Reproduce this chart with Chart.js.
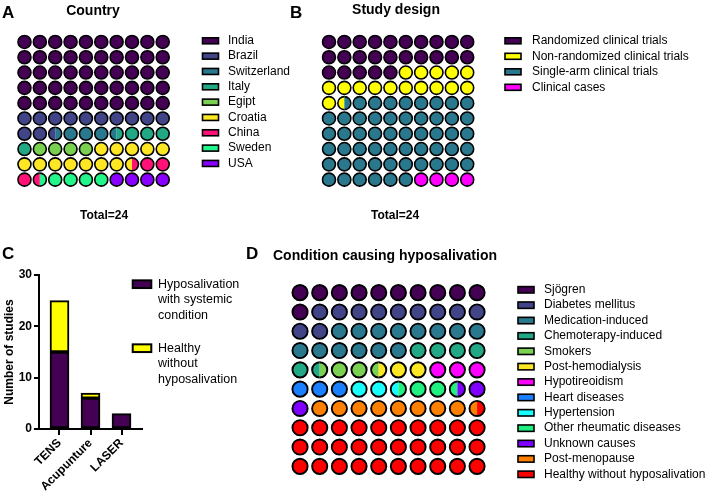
<!DOCTYPE html>
<html>
<head>
<meta charset="utf-8">
<script src="https://cdn.jsdelivr.net/npm/chart.js@4"></script>
<style>
body { margin: 0; background: #fff; }
#wrap { position: relative; width: 709px; height: 492px; }
canvas { position: absolute; left: 0; top: 0; pointer-events: none; }
</style>
</head>
<body>
<div id="wrap">
  <canvas id="chartA" width="709" height="492"></canvas>
  <canvas id="chartB" width="709" height="492"></canvas>
  <canvas id="chartC" width="709" height="492"></canvas>
  <canvas id="chartD" width="709" height="492"></canvas>
</div>
<script>
// A - country of the studies
var countryLabels = ["India", "Brazil", "Switzerland", "Italy", "Egipt", "Croatia", "China", "Sweden", "USA"];
var countryStudies = [12, 3, 1, 1, 1, 3, 1, 1, 1];
var countryColors = ["#440154", "#414487", "#2a788e", "#22a884", "#7ad151", "#fde725", "#ff1177", "#22f58a", "#8a00ff"];

// B - study design
var designLabels = ["Randomized clinical trials", "Non-randomized clinical trials", "Single-arm clinical trials", "Clinical cases"];
var designStudies = [6, 4, 13, 1];
var designColors = ["#440154", "#ffff00", "#2a788e", "#ff00ff"];

// C - studies per technique
var techniques = ["TENS", "Acupunture", "LASER"];
var systemicStudies = [15, 6, 3];
var healthyStudies = [10, 1, 0];
var groupLabels = [["Hyposalivation", "with systemic", "condition"], ["Healthy", "without", "hyposalivation"]];
var groupColors = ["#440154", "#ffff00"];

// D - condition causing hyposalivation
var conditionLabels = ["Sjögren", "Diabetes mellitus", "Medication-induced", "Chemoterapy-induced", "Smokers", "Post-hemodialysis", "Hypotireoidism", "Heart diseases", "Hypertension", "Other rheumatic diseases", "Unknown causes", "Post-menopause", "Healthy without hyposalivation"];
var conditionStudies = [4, 4, 5, 2, 1, 1, 1, 1, 1, 1, 1, 3, 11];
var conditionColors = ["#440154", "#414487", "#2a788e", "#22a884", "#7ad151", "#fde725", "#ff00ff", "#1a80ff", "#19ffff", "#20f080", "#8000ff", "#ff8000", "#ff0000"];

var FONT = "'Liberation Sans', Arial, sans-serif";
Chart.defaults.font.family = FONT;
Chart.defaults.color = "#000";

// split 100 cells between categories, in half cells
function waffleCells(counts) {
    var total = counts.reduce(function (a, b) { return a + b; }, 0);
    var bounds = [0], cum = 0;
    counts.forEach(function (c) {
        cum += c;
        bounds.push(Math.round(cum / total * 200) / 2);
    });
    return counts.map(function (c, k) {
        var pts = [];
        for (var i = Math.floor(bounds[k]); i < Math.ceil(bounds[k + 1]); i++) {
            var f0 = Math.max(bounds[k] - i, 0), f1 = Math.min(bounds[k + 1] - i, 1);
            if (f1 > f0) pts.push({x: i % 10, y: Math.floor(i / 10), f0: f0, f1: f1});
        }
        return pts;
    });
}

// draws the half filled cells
var splitCellPlugin = {
    id: "splitCells",
    afterDatasetsDraw: function (chart) {
        var ctx = chart.ctx;
        chart.data.datasets.forEach(function (ds, i) {
            var meta = chart.getDatasetMeta(i);
            meta.data.forEach(function (pt, j) {
                var raw = ds.data[j];
                if (raw.f1 - raw.f0 >= 1) return;
                var r = ds.cellRadius, R = r + ds.borderWidth;
                ctx.save();
                ctx.beginPath();
                ctx.rect(pt.x - R + 2 * R * raw.f0, pt.y - R, 2 * R * (raw.f1 - raw.f0), 2 * R);
                ctx.clip();
                ctx.beginPath();
                ctx.arc(pt.x, pt.y, r, 0, Math.PI * 2);
                ctx.fillStyle = ds.backgroundColor;
                ctx.fill();
                ctx.lineWidth = ds.borderWidth;
                ctx.strokeStyle = "#000";
                ctx.stroke();
                ctx.restore();
            });
        });
    }
};

// titles, panel letters and legends
var decorPlugin = {
    id: "decor",
    afterDraw: function (chart, args, opts) {
        var ctx = chart.ctx;
        ctx.save();
        (opts.texts || []).forEach(function (t) {
            ctx.font = t.font;
            ctx.fillStyle = "#000";
            ctx.textAlign = t.align || "left";
            ctx.textBaseline = "alphabetic";
            ctx.fillText(t.text, t.x, t.y);
        });
        var lg = opts.legend;
        if (lg) {
            var y = lg.y;
            chart.data.datasets.forEach(function (ds, i) {
                var lines = lg.lines ? lg.lines[i] : [ds.label];
                ctx.fillStyle = ds.backgroundColor;
                ctx.fillRect(lg.x, y - lg.boxH / 2, lg.boxW, lg.boxH);
                ctx.lineWidth = lg.bw;
                ctx.strokeStyle = "#000";
                ctx.strokeRect(lg.x, y - lg.boxH / 2, lg.boxW, lg.boxH);
                ctx.font = lg.font;
                ctx.fillStyle = "#000";
                ctx.textAlign = "left";
                ctx.textBaseline = "middle";
                lines.forEach(function (l, k) {
                    ctx.fillText(l, lg.textX, y + k * lg.lineH);
                });
                y += lg.step;
            });
        }
        ctx.restore();
    }
};

function buildWaffle(id, labels, counts, colors, r, bw, area, decor) {
    var cells = waffleCells(counts);
    var datasets = labels.map(function (label, k) {
        return {
            label: label,
            data: cells[k],
            backgroundColor: colors[k],
            borderColor: "#000",
            borderWidth: bw,
            cellRadius: r,
            pointRadius: function (c) { return (c.raw && c.raw.f1 - c.raw.f0 < 1) ? 0 : r; },
            pointHoverRadius: function (c) { return (c.raw && c.raw.f1 - c.raw.f0 < 1) ? 0 : r; }
        };
    });
    return new Chart(document.getElementById(id), {
        type: "scatter",
        data: {datasets: datasets},
        plugins: [splitCellPlugin, decorPlugin],
        options: {
            responsive: false,
            animation: false,
            events: [],
            layout: {padding: {left: area.left, right: 709 - area.right, top: area.top, bottom: 492 - area.bottom}},
            scales: {
                x: {type: "linear", min: -0.5, max: 9.5, display: false},
                y: {type: "linear", min: -0.5, max: 9.5, reverse: true, display: false}
            },
            plugins: {
                legend: {display: false},
                tooltip: {enabled: false},
                decor: decor
            }
        }
    });
}

buildWaffle("chartA", countryLabels, countryStudies, countryColors, 6.5, 1.6,
    {left: 16.8, right: 170.4, top: 34.3, bottom: 187.3},
    {
        texts: [
            {text: "A", x: 2, y: 18, font: "bold 17px " + FONT},
            {text: "Country", x: 93, y: 14.5, font: "bold 14px " + FONT, align: "center"},
            {text: "Total=24", x: 104, y: 219, font: "bold 12px " + FONT, align: "center"}
        ],
        legend: {x: 202.5, y: 40.8, step: 15.33, boxW: 16, boxH: 6, bw: 1.6, textX: 228, lineH: 14, font: "12px " + FONT}
    });

buildWaffle("chartB", designLabels, designStudies, designColors, 6.5, 1.6,
    {left: 321.3, right: 474.9, top: 34.3, bottom: 187.3},
    {
        texts: [
            {text: "B", x: 290, y: 18, font: "bold 17px " + FONT},
            {text: "Study design", x: 396, y: 14, font: "bold 14px " + FONT, align: "center"},
            {text: "Total=24", x: 395, y: 219, font: "bold 12px " + FONT, align: "center"}
        ],
        legend: {x: 505, y: 40.8, step: 15.5, boxW: 16, boxH: 6, bw: 1.6, textX: 532, lineH: 14, font: "12px " + FONT}
    });

buildWaffle("chartD", conditionLabels, conditionStudies, conditionColors, 7.6, 1.9,
    {left: 290.2, right: 486.9, top: 283, bottom: 476},
    {
        texts: [
            {text: "D", x: 246, y: 259, font: "bold 17px " + FONT},
            {text: "Condition causing hyposalivation", x: 273, y: 260, font: "bold 14px " + FONT}
        ],
        legend: {x: 518, y: 289.8, step: 15.375, boxW: 16, boxH: 6.4, bw: 1.6, textX: 544, lineH: 14, font: "12px " + FONT}
    });

// C - stacked bars
new Chart(document.getElementById("chartC"), {
    type: "bar",
    data: {
        datasets: [
            {
                label: groupLabels[0].join(" "),
                data: techniques.map(function (t, i) { return {x: i, y: systemicStudies[i]}; }),
                backgroundColor: groupColors[0],
                borderColor: "#000",
                borderWidth: 2,
                borderSkipped: false,
                barThickness: 19
            },
            {
                label: groupLabels[1].join(" "),
                data: techniques.map(function (t, i) { return {x: i, y: healthyStudies[i]}; }),
                backgroundColor: groupColors[1],
                borderColor: "#000",
                borderWidth: 2,
                borderSkipped: false,
                barThickness: 19
            }
        ]
    },
    plugins: [decorPlugin],
    options: {
        responsive: false,
        animation: false,
        events: [],
        layout: {padding: {left: 0, right: 567, top: 275, bottom: 0}},
        scales: {
            x: {
                type: "linear",
                stacked: true,
                offset: false,
                min: -0.661,
                max: 2.661,
                grid: {display: true, offset: false, drawOnChartArea: false, drawTicks: true, tickLength: 6, color: "#000", lineWidth: 2},
                border: {display: true, color: "#000", width: 2},
                ticks: {
                    stepSize: 1,
                    includeBounds: false,
                    autoSkip: false,
                    minRotation: 45,
                    maxRotation: 45,
                    padding: 1,
                    font: {size: 12, weight: "bold"},
                    callback: function (v) { return techniques[v] || ""; }
                },
                afterFit: function (s) { s.height = 63; }
            },
            y: {
                stacked: true,
                min: 0,
                max: 30,
                grid: {display: true, drawOnChartArea: false, drawTicks: true, tickLength: 5, color: "#000", lineWidth: 2},
                border: {display: true, color: "#000", width: 2},
                ticks: {stepSize: 10, padding: 2, font: {size: 12, weight: "bold"}},
                title: {display: true, text: "Number of studies", font: {size: 12, weight: "bold"}, padding: {top: 2, bottom: 0}},
                afterFit: function (s) { s.width = 39; }
            }
        },
        plugins: {
            legend: {display: false},
            tooltip: {enabled: false},
            decor: {
                texts: [
                    {text: "C", x: 2, y: 259, font: "bold 17px " + FONT}
                ],
                legend: {x: 132.7, y: 284.2, step: 64, boxW: 18.6, boxH: 7.7, bw: 2, textX: 158, lineH: 15.5, lines: groupLabels, font: "12.5px " + FONT}
            }
        }
    }
});
</script>
</body>
</html>
